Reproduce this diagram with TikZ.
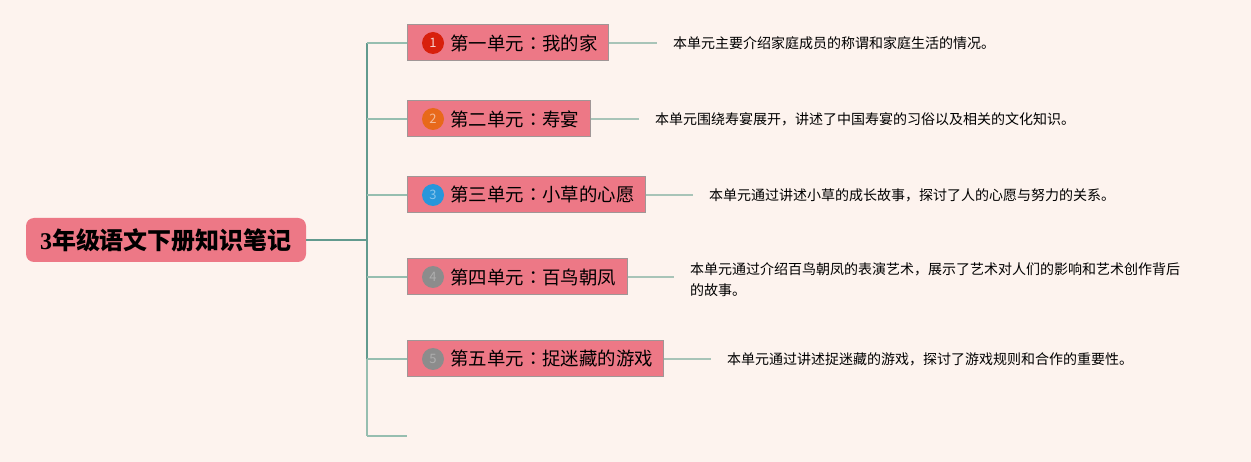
\documentclass[tikz,border=0pt]{standalone}
\usepackage{fontspec}
\setmainfont{Noto Sans CJK SC}
\newfontfamily\jpfont{Noto Sans CJK JP}
\newfontfamily\numfont{Liberation Serif}
\usetikzlibrary{calc}
\definecolor{bgc}{RGB}{253,243,238}
\definecolor{pinkc}{RGB}{237,120,134}
\definecolor{boxedge}{RGB}{160,150,150}
\definecolor{trunkc}{RGB}{98,154,142}
\definecolor{branchc}{RGB}{150,190,176}
\definecolor{descline}{RGB}{168,196,184}
\definecolor{c1}{RGB}{216,32,12}
\definecolor{c2}{RGB}{232,105,26}
\definecolor{c3}{RGB}{40,150,218}
\definecolor{c4}{RGB}{140,140,140}
\newcommand{\cc}{{\jpfont ：}}
\begin{document}
\begin{tikzpicture}[x=1pt,y=-1pt,
  rootbox/.style={fill=pinkc, rounded corners=8pt, minimum height=44pt, minimum width=280pt, inner xsep=0pt, inner ysep=0pt, font=\fontsize{24}{28}\selectfont\bfseries, text=black},
  unitbox/.style={fill=pinkc, draw=boxedge, line width=1pt, minimum height=36pt, inner xsep=11pt, inner ysep=0pt, anchor=west, font=\fontsize{18.4}{22}\selectfont, text=black},
  numdot/.style={circle, minimum size=22pt, inner sep=0pt, font=\fontsize{13}{15}\selectfont},
  desc/.style={anchor=west, inner xsep=16pt, inner ysep=0pt, font=\fontsize{14}{21}\selectfont, text=black, align=left},
  trunk/.style={draw=trunkc, line width=1.5pt},
  branch/.style={draw=branchc, line width=1.5pt},
  dline/.style={draw=descline, line width=1.5pt}]
\fill[bgc] (0,0) rectangle (1251,462);
\useasboundingbox (0,0) rectangle (1251,462);

\node[rootbox] (root) at (166,240) {{\numfont 3}年级语文下册知识笔记};

\coordinate (j) at (367,240);
\coordinate (b1) at (367,43);
\coordinate (b2) at (367,119);
\coordinate (b3) at (367,195);
\coordinate (b4) at (367,277);
\coordinate (b5) at (367,359);
\coordinate (b6) at (367,436);
\coordinate (b6e) at (407,436);

\node[unitbox] (u1) at (407,43) {\hspace{32pt}第一单元\cc 我的家};
\node[unitbox] (u2) at (407,119) {\hspace{32pt}第二单元\cc 寿宴};
\node[unitbox] (u3) at (407,195) {\hspace{32pt}第三单元\cc 小草的心愿};
\node[unitbox] (u4) at (407,277) {\hspace{32pt}第四单元\cc 百鸟朝凤};
\node[unitbox] (u5) at (407,359) {\hspace{32pt}第五单元\cc 捉迷藏的游戏};

\node[numdot, fill=c1, text=white!80!c1] (n1) at ($(u1.west)+(26,0)$) {1};
\node[numdot, fill=c2, text=white!55!c2] (n2) at ($(u2.west)+(26,0)$) {2};
\node[numdot, fill=c3, text=white!45!c3] (n3) at ($(u3.west)+(26,0)$) {3};
\node[numdot, fill=c4, text=white!30!c4] (n4) at ($(u4.west)+(26,0)$) {4};
\node[numdot, fill=c4, text=white!30!c4] (n5) at ($(u5.west)+(26,0)$) {5};

\draw[trunk] (root.east) -- (j);
\draw[trunk] (b1) -- (b5);
\draw[branch] (b5) -- (b6);
\draw[branch] (b1) -- (u1.west);
\draw[branch] (b2) -- (u2.west);
\draw[branch] (b3) -- (u3.west);
\draw[branch] (b4) -- (u4.west);
\draw[branch] (b5) -- (u5.west);
\draw[branch] (b6) -- (b6e);

\node[desc] (d1) at (657,43) {本单元主要介绍家庭成员的称谓和家庭生活的情况。};
\node[desc] (d2) at (639,119) {本单元围绕寿宴展开，讲述了中国寿宴的习俗以及相关的文化知识。};
\node[desc] (d3) at (693,195) {本单元通过讲述小草的成长故事，探讨了人的心愿与努力的关系。};
\node[desc] (d4) at (674,279.5) {本单元通过介绍百鸟朝凤的表演艺术，展示了艺术对人们的影响和艺术创作背后\\的故事。};
\node[desc] (d5) at (711,359) {本单元通过讲述捉迷藏的游戏，探讨了游戏规则和合作的重要性。};

\draw[dline] (u1.east) -- (d1.west);
\draw[dline] (u2.east) -- (d2.west);
\draw[dline] (u3.east) -- (d3.west);
\draw[dline] (u4.east) -- (d4.west |- u4.east);
\draw[dline] (u5.east) -- (d5.west);
\end{tikzpicture}
\end{document}
